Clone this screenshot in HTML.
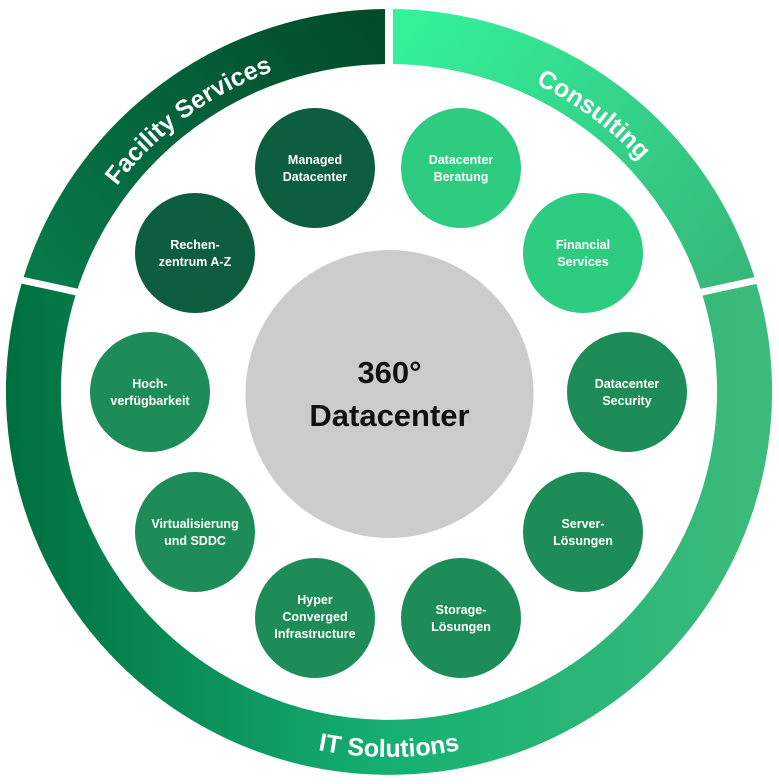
<!DOCTYPE html>
<html><head><meta charset="utf-8"><style>
html,body{margin:0;padding:0;background:#fff;width:779px;height:784px;overflow:hidden}
svg{display:block}
.b{font-family:"Liberation Sans",sans-serif;font-weight:bold;fill:#fff}
.s{font-size:12.5px;text-anchor:middle}
.r{font-size:25px}
</style></head><body>
<svg width="779" height="784" viewBox="0 0 779 784" xmlns="http://www.w3.org/2000/svg">
<defs>
<linearGradient id="gf" gradientUnits="userSpaceOnUse" x1="40" y1="300" x2="380" y2="20"><stop offset="0" stop-color="#087b4b"/><stop offset="1" stop-color="#014a2a"/></linearGradient>
<linearGradient id="gc" gradientUnits="userSpaceOnUse" x1="400" y1="20" x2="760" y2="300"><stop offset="0" stop-color="#33f29a"/><stop offset="1" stop-color="#36b478"/></linearGradient>
<linearGradient id="gi" gradientUnits="userSpaceOnUse" x1="10" y1="400" x2="770" y2="400"><stop offset="0" stop-color="#006f3f"/><stop offset="0.5" stop-color="#16b072"/><stop offset="1" stop-color="#3dbb7c"/></linearGradient>
<path id="pf" d="M63,291 A341,341 0 0 1 389,51"/>
<path id="pc" d="M389,51 A341,341 0 0 1 715,291"/>
<path id="pi" d="M24,392 A365,365 0 0 0 754,392"/>
</defs>
<path d="M49,288 A355.5,355.5 0 0 1 389,36.5" fill="none" stroke="url(#gf)" stroke-width="55"/>
<path d="M389,36.5 A355.5,355.5 0 0 1 729,288" fill="none" stroke="url(#gc)" stroke-width="55"/>
<path d="M729,288 A355.5,355.5 0 1 1 49,288" fill="none" stroke="url(#gi)" stroke-width="55"/>
<line x1="389" y1="0" x2="389" y2="75" stroke="#fff" stroke-width="8"/>
<line x1="12" y1="278" x2="86" y2="294" stroke="#fff" stroke-width="7"/>
<line x1="767" y1="278" x2="693" y2="294" stroke="#fff" stroke-width="7"/>
<text class="b r"><textPath href="#pf" startOffset="50%" text-anchor="middle">Facility Services</textPath></text>
<text class="b r"><textPath href="#pc" startOffset="50%" text-anchor="middle">Consulting</textPath></text>
<text class="b r"><textPath href="#pi" startOffset="50%" text-anchor="middle">IT Solutions</textPath></text>
<circle cx="389.5" cy="394" r="144" fill="#cccccc"/>
<text x="389.5" y="383" text-anchor="middle" font-family="Liberation Sans,sans-serif" font-weight="bold" font-size="31" fill="#111">360°</text>
<text x="389.5" y="426" text-anchor="middle" font-family="Liberation Sans,sans-serif" font-weight="bold" font-size="31" fill="#111">Datacenter</text>
<g fill="#0d5e3e"><circle cx="315" cy="168" r="60"/><circle cx="195" cy="253" r="60"/></g>
<g fill="#2ecc80"><circle cx="461" cy="168" r="60"/><circle cx="583" cy="253" r="60"/></g>
<g fill="#1e8c58"><circle cx="150" cy="392" r="60"/><circle cx="627" cy="392" r="60"/><circle cx="195" cy="532" r="60"/><circle cx="583" cy="532" r="60"/><circle cx="315" cy="618" r="60"/><circle cx="461" cy="618" r="60"/></g>
<g class="b s">
<text x="315" y="164">Managed</text><text x="315" y="181">Datacenter</text>
<text x="461" y="164">Datacenter</text><text x="461" y="181">Beratung</text>
<text x="195" y="249">Rechen-</text><text x="195" y="266">zentrum A-Z</text>
<text x="583" y="249">Financial</text><text x="583" y="266">Services</text>
<text x="150" y="388">Hoch-</text><text x="150" y="405">verfügbarkeit</text>
<text x="627" y="388">Datacenter</text><text x="627" y="405">Security</text>
<text x="195" y="528">Virtualisierung</text><text x="195" y="545">und SDDC</text>
<text x="583" y="528">Server-</text><text x="583" y="545">Lösungen</text>
<text x="315" y="604">Hyper</text><text x="315" y="621">Converged</text><text x="315" y="638">Infrastructure</text>
<text x="461" y="614">Storage-</text><text x="461" y="631">Lösungen</text>
</g>
</svg>
</body></html>
